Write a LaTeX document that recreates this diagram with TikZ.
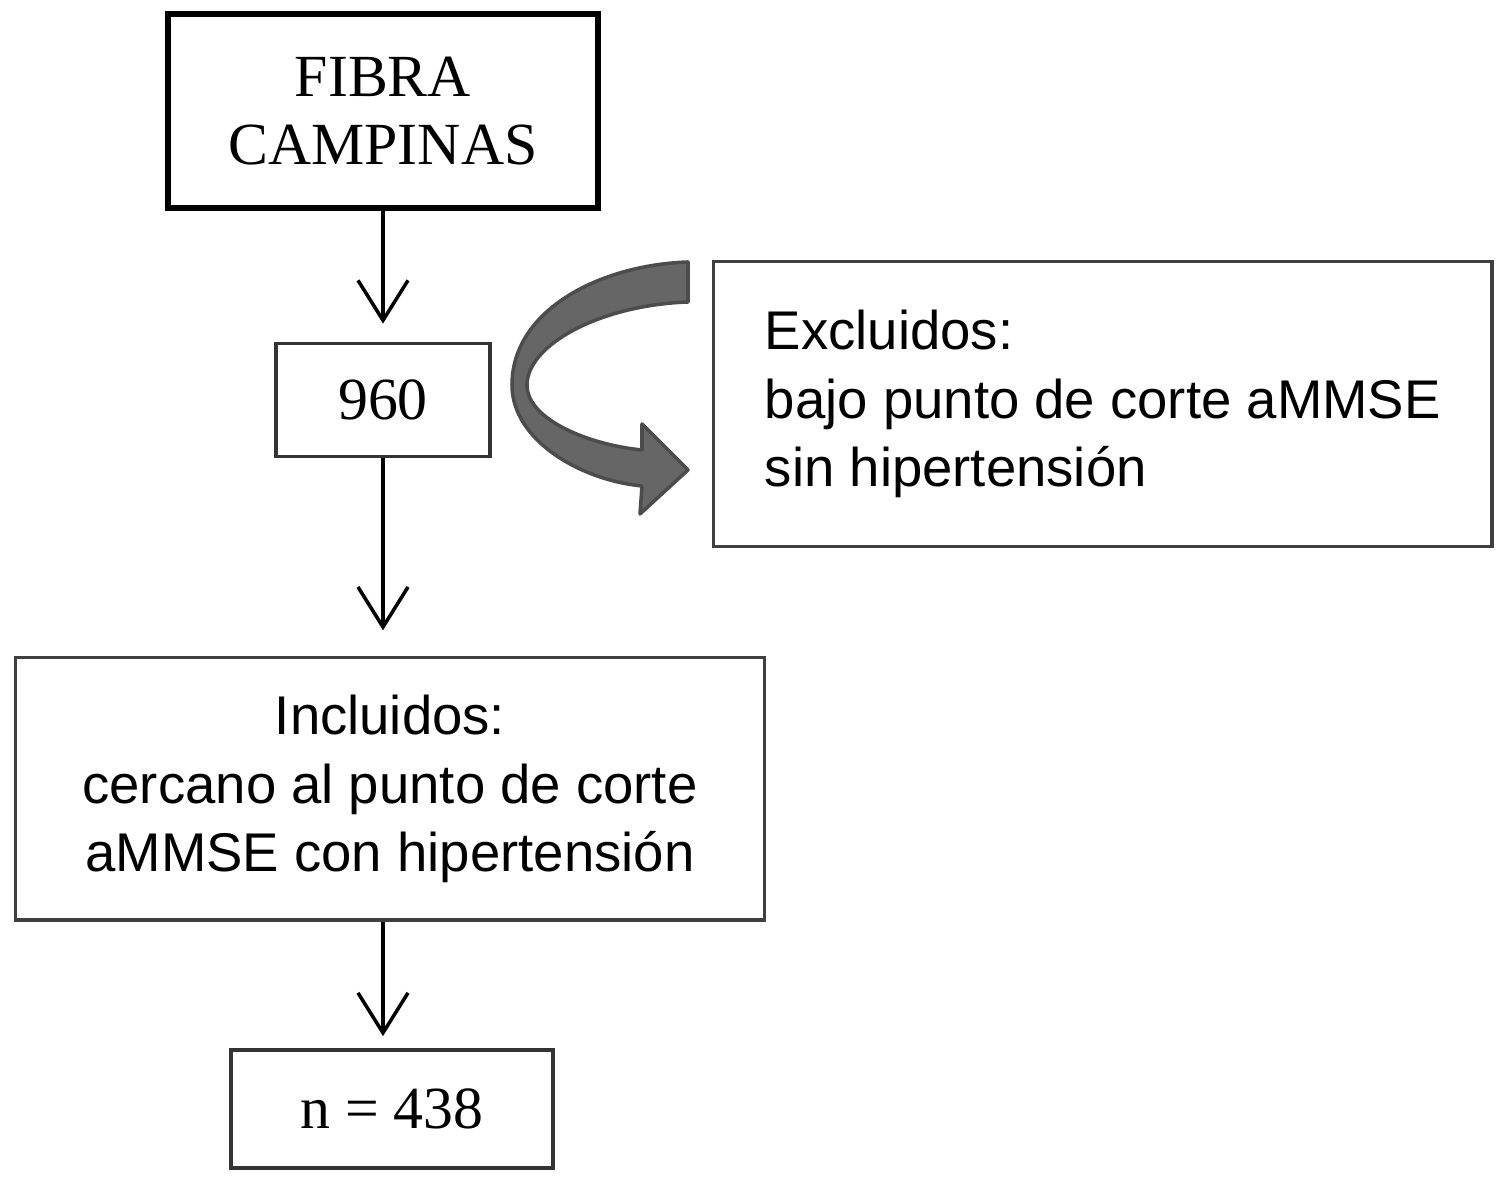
\documentclass[tikz,border=0pt]{standalone}
\usepackage{fontspec}
\setmainfont{Liberation Sans}
\newfontfamily\boxserif{Liberation Serif}
\usetikzlibrary{arrows.meta}
\tikzset{>={Straight Barb[length=4mm,width=5mm,line width=1pt]}}

\begin{document}
\begin{tikzpicture}[x=0.01cm,y=-0.01cm]
      \tikzstyle{serifbox}=[draw=black!80,line width=1pt,inner sep=0pt,
        font=\boxserif\fontsize{17}{19.5}\selectfont,align=center];
      \tikzstyle{textbox}=[draw=black!75,line width=0.9pt,inner sep=0pt,
        font=\fontsize{15.5}{19.5}\selectfont];
      \tikzstyle{flow}=[line width=1pt,->];
      \useasboundingbox (0,0) rectangle (1508,1183);
      % boxes
      \node[serifbox,line width=1.5pt,draw=black,minimum width=4.3cm,minimum height=1.94cm]
        (fibra) at (383,111) {FIBRA\\CAMPINAS};
      \node[serifbox,minimum width=2.14cm,minimum height=1.13cm] (total) at (383,400) {960};
      \node[textbox,anchor=north west,align=left,minimum width=7.78cm,
        minimum height=2.85cm] (excl) at (712,260)
        {Excluidos:\\bajo punto de corte aMMSE\\sin hipertensión};
      \node[textbox,minimum width=7.49cm,minimum height=2.62cm,align=center]
        (incl) at (390,789) {Incluidos:\\cercano al punto de corte\\aMMSE con hipertensión};
      \node[serifbox,minimum width=3.22cm,minimum height=1.18cm] (final) at (392,1109) {n = 438};
      % arrows
      \draw[flow,shorten >=0.18cm] (fibra.south) -- (total.north);
      \draw[flow,shorten >=0.26cm] (total.south) -- (incl.north-|total.south);
      \draw[flow,shorten >=0.12cm] (incl.south-|total.south) -- (final.north-|total.south);
      % curved arrow to the excluded box
      \filldraw[fill=black!60,draw=black!70,line width=1pt,line join=round]
        (688,262) .. controls (600,265) and (512,310) .. (512,385)
        .. controls (512,440) and (580,480) .. (642,486)
        -- (640,514) -- (688,470) -- (642,424) -- (642,450)
        .. controls (590,445) and (527,420) .. (527,385)
        .. controls (527,345) and (600,305) .. (688,302) -- cycle;
\end{tikzpicture}
\end{document}
